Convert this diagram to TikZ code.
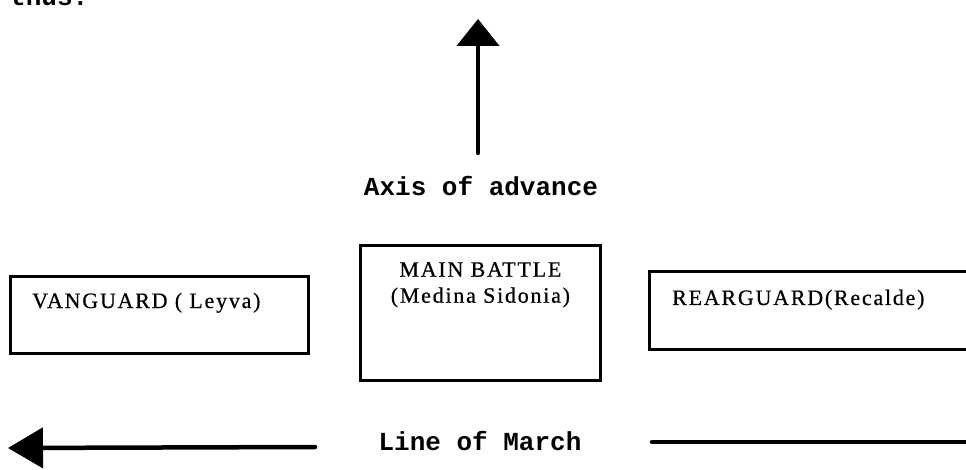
\documentclass[tikz,border=0pt]{standalone}
\usepackage{fontspec}
\setmainfont{Liberation Serif}
\newfontfamily\typewriter{Liberation Mono}
\newfontfamily\boxfont[LetterSpace=8,FakeBold=0.6]{Liberation Serif}
\usetikzlibrary{arrows.meta,calc}

\begin{document}
\begin{tikzpicture}[x=1pt,y=-1pt,
  tw/.style={font=\typewriter\bfseries\fontsize{26}{26}\selectfont, inner sep=0pt},
  lbl/.style={font=\boxfont\fontsize{22}{26}\selectfont, inner sep=0pt},
  unit/.style={draw, line width=2.8pt, inner sep=0pt, anchor=north west},
  shaft/.style={line width=4.5pt, line cap=round}
]
\useasboundingbox (0,0) rectangle (966,470);
\begin{scope}
\clip (0,0) rectangle (966,470);

% text running in from above
\node[tw, anchor=base west] (prev) at (10,6) {thus:};

% axis of advance
\node[tw, anchor=base] (axis) at (481,196) {Axis of advance};
\coordinate (axistop) at (478,19);
\coordinate (axisfoot) at (478,153);
\draw[shaft, -{Triangle[length=27pt,width=42pt]}] (axisfoot) -- (axistop);

% the three bodies of the fleet
\node[unit, minimum width=298pt, minimum height=77pt] (van) at (9,275) {};
\node[lbl, anchor=base west] (vantxt) at ($(van.north west)+(23,33)$) {VANGUARD ( Leyva)};

\node[unit, minimum width=240pt, minimum height=135pt] (main) at (359,244) {};
\node[lbl, align=center, anchor=north] (maintxt) at ($(main.north)+(0,18)$) {MAIN BATTLE\\(Medina Sidonia)};

\node[unit, minimum width=340pt, minimum height=78pt] (rear) at (648,270) {};
\node[lbl, anchor=base west] (reartxt) at ($(rear.north west)+(24,35)$) {REARGUARD(Recalde)};

% line of march
\node[tw, anchor=base] (march) at (480,450) {Line of March};
\coordinate (marchtip) at (8,448);
\coordinate (marchtail) at (315,447);
\coordinate (marchstart) at (652,442);
\coordinate (marchend) at (975,442);
\draw[shaft, -{Triangle[length=35pt,width=40pt]}] (marchtail) -- (marchtip);
\draw[shaft] (marchstart) -- (marchend);
\end{scope}
\end{tikzpicture}
\end{document}
